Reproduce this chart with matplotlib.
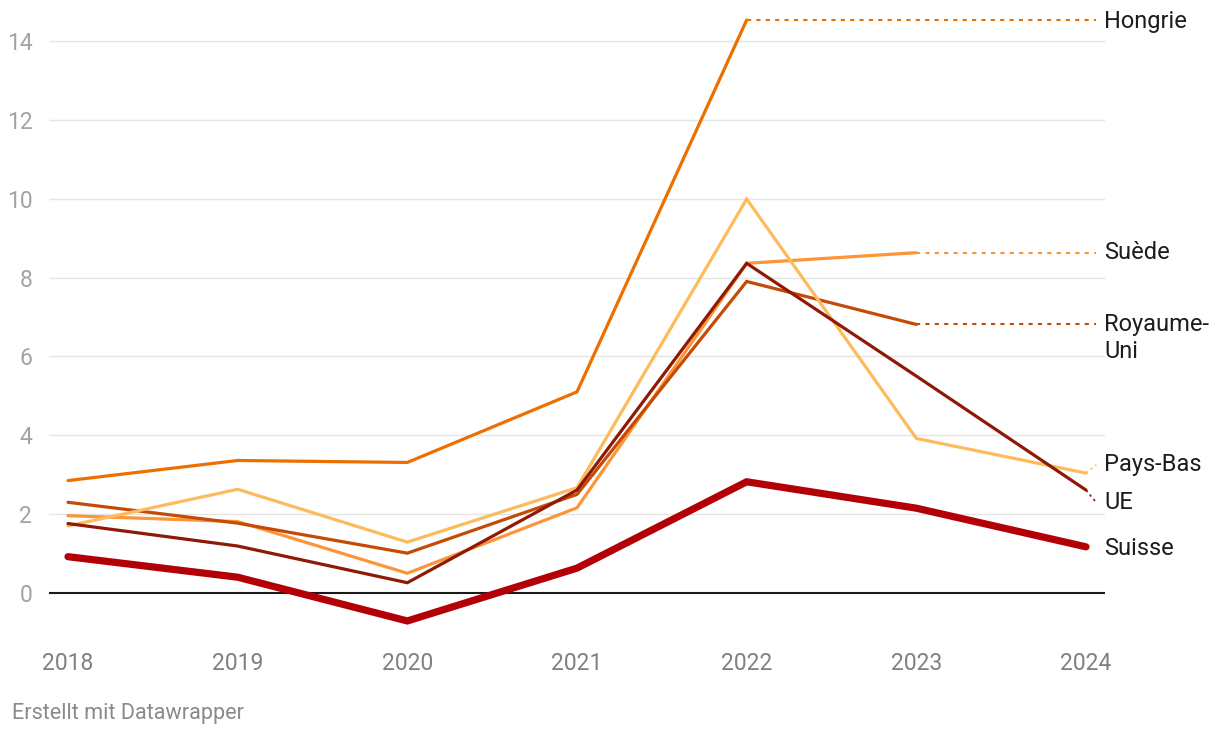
import numpy as np
import matplotlib
matplotlib.use("Agg")
import matplotlib.pyplot as plt

plt.rcParams['font.family'] = ['Roboto', 'DejaVu Sans']

years = [2018, 2019, 2020, 2021, 2022, 2023, 2024]
hongrie = [2.85, 3.36, 3.31, 5.10, 14.53, np.nan, np.nan]
suede = [1.96, 1.81, 0.50, 2.16, 8.36, 8.63, np.nan]
royaume_uni = [2.30, 1.77, 1.01, 2.50, 7.90, 6.81, np.nan]
pays_bas = [1.70, 2.63, 1.29, 2.67, 9.99, 3.92, 3.04]
ue = [1.76, 1.19, 0.26, 2.61, 8.36, 5.50, 2.61]
suisse = [0.92, 0.40, -0.71, 0.63, 2.82, 2.15, 1.17]

# name, values, colour, width, label y position
series = [
    ('Hongrie', hongrie, '#ec6f00', 2.3, 14.5),
    ('Suède', suede, '#fd9538', 2.3, 8.63),
    ('Royaume-\nUni', royaume_uni, '#c44a06', 2.3, 6.47),
    ('Pays-Bas', pays_bas, '#fdbb5b', 2.3, 3.25),
    ('UE', ue, '#8e1905', 2.3, 2.29),
    ('Suisse', suisse, '#b30006', 5.2, 1.13),
]

fig = plt.figure(figsize=(12.2, 7.38), dpi=100)
ax = fig.add_axes([49 / 1220, 1 - 632.4 / 738, (1105 - 49) / 1220, (632.4 - 1.5) / 738])

x0, x1 = 2018 - 19 / 169.67, 2024 + 19 / 169.67
ax.set_xlim(x0, x1)
ax.set_ylim(-1, 15)

for yv in range(2, 15, 2):
    ax.axhline(yv, color='#e5e5e5', lw=1, zorder=0)
ax.axhline(0, color='#1a1a1a', lw=1.5, zorder=1)

label_x = 2024 + 18 / 169.67
for name, vals, col, lw, ly in series:
    v = np.array(vals, dtype=float)
    ax.plot(years, v, color=col, lw=lw, solid_capstyle='round', solid_joinstyle='miter', zorder=3)
    idx = np.where(~np.isnan(v))[0][-1]
    lx, lv = years[idx], v[idx]
    if idx < len(years) - 1:
        ax.plot([lx, label_x - 0.05], [lv, lv], color=col, lw=1.5,
                linestyle=(0, (2, 2.5)), zorder=2, clip_on=False)
    elif name in ('Pays-Bas', 'UE'):
        ax.plot([lx, label_x - 0.045], [lv, ly], color=col, lw=1.2,
                linestyle=(0, (1.5, 2)), zorder=2, clip_on=False)
    ax.text(label_x, ly, name, fontsize=17, color='#1d1d1d', va='center', ha='left',
            clip_on=False, linespacing=1.2)

ax.set_xticks(years)
ax.set_xticklabels([str(y) for y in years], fontsize=16.5, color='#808080')
ax.set_yticks(range(0, 15, 2))
ax.set_yticklabels([str(y) for y in range(0, 15, 2)], fontsize=16.5, color='#a3a3a3')
ax.tick_params(axis='x', length=0, pad=14)
ax.tick_params(axis='y', length=0, pad=12)
for s in ax.spines.values():
    s.set_visible(False)

fig.text(12 / 1220, 1 - 714 / 738, 'Erstellt mit Datawrapper', fontsize=15.6, color='#8a8a8a',
         va='center', ha='left')

fig.savefig('out.png', dpi=100)
